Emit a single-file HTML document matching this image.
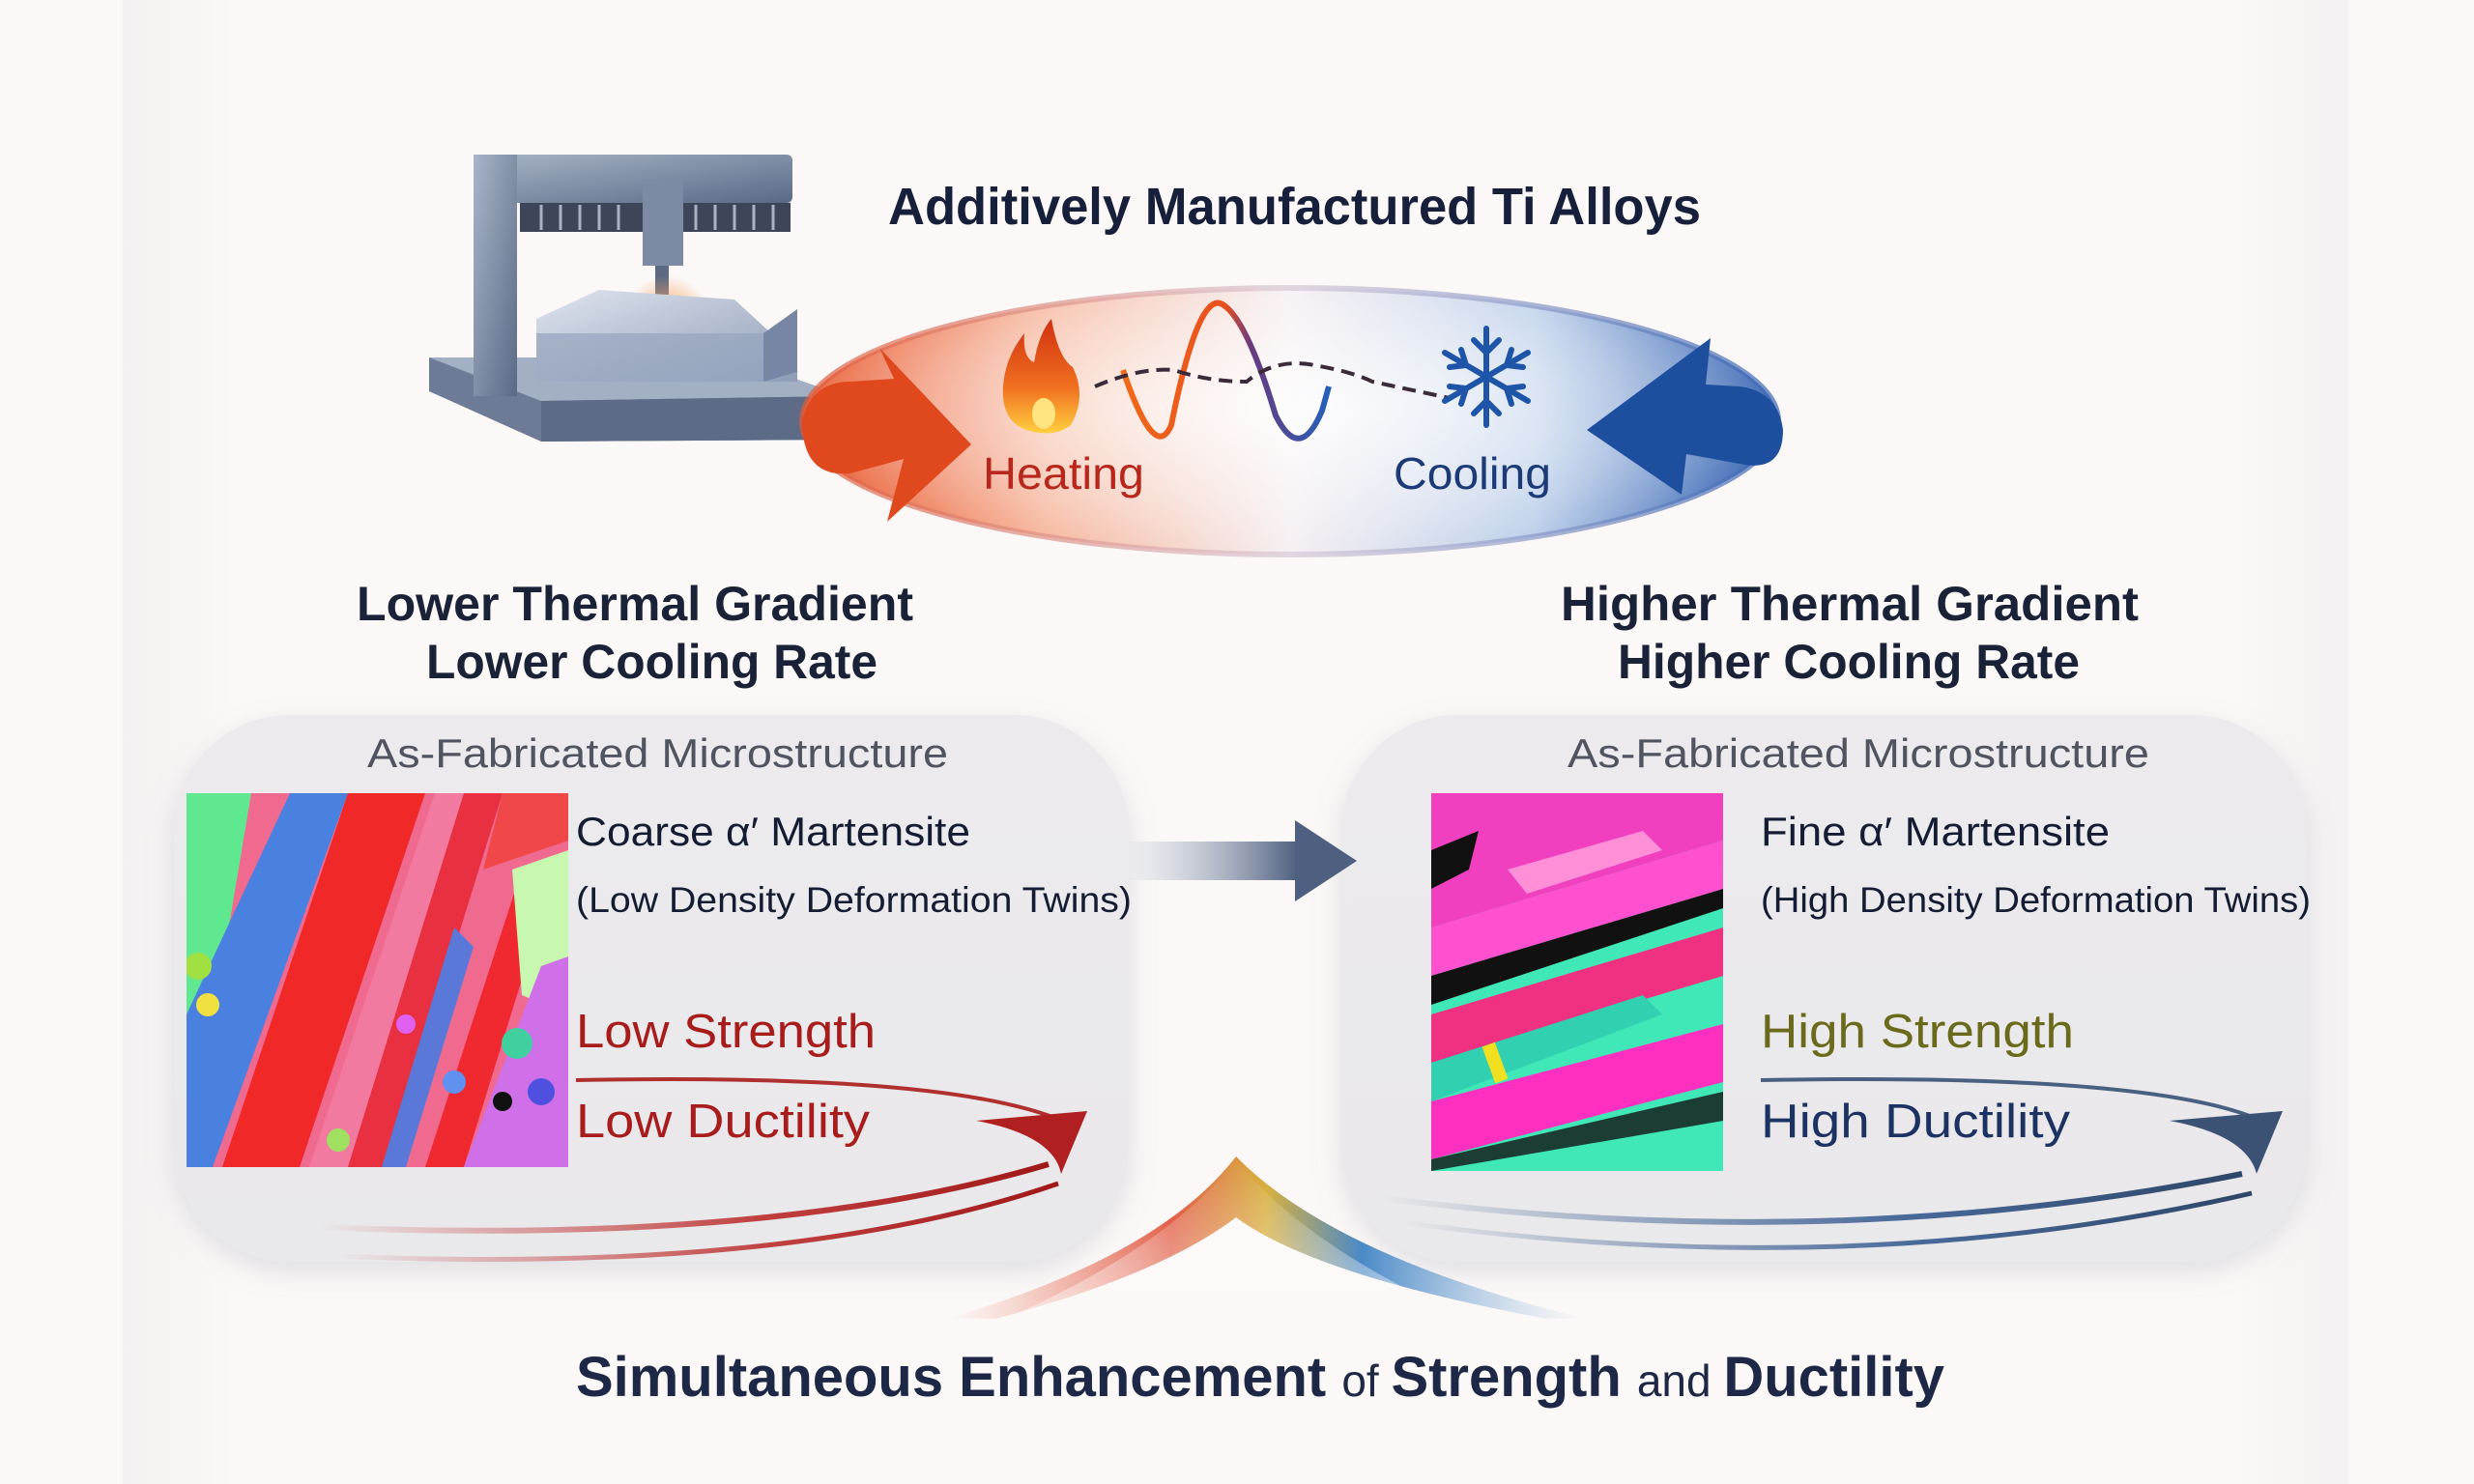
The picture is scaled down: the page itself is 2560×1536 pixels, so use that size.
<!DOCTYPE html>
<html><head><meta charset="utf-8"><style>
html,body{margin:0;padding:0;width:2560px;height:1536px;overflow:hidden;background:#fbf9f8}
svg{display:block}
text{font-family:"Liberation Sans",sans-serif}
</style></head><body>
<svg width="2560" height="1536" viewBox="0 0 2560 1536" xmlns="http://www.w3.org/2000/svg">
<defs>
<linearGradient id="bg" x1="0" x2="1"><stop offset="0" stop-color="#f3f1f1"/><stop offset="0.05" stop-color="#fbf8f7"/><stop offset="0.95" stop-color="#fbf8f7"/><stop offset="1" stop-color="#f3f1f1"/></linearGradient>
<linearGradient id="ell" x1="0" x2="1"><stop offset="0" stop-color="#e8562c"/><stop offset="0.25" stop-color="#f6b9a0"/><stop offset="0.5" stop-color="#f5eff2"/><stop offset="0.75" stop-color="#bccfea"/><stop offset="1" stop-color="#2c5cae"/></linearGradient>
<linearGradient id="rim" x1="0" x2="1"><stop offset="0" stop-color="#e05a3a"/><stop offset="0.5" stop-color="#d8c8d8"/><stop offset="1" stop-color="#3a66b4"/></linearGradient>
<radialGradient id="ellw" cx="0.5" cy="0.45" r="0.55"><stop offset="0" stop-color="#fff" stop-opacity="0.85"/><stop offset="0.7" stop-color="#fff" stop-opacity="0.3"/><stop offset="1" stop-color="#fff" stop-opacity="0"/></radialGradient>
<linearGradient id="wave" x1="0" x2="1"><stop offset="0" stop-color="#f06a1a"/><stop offset="0.5" stop-color="#e8501e"/><stop offset="0.62" stop-color="#6a3a80"/><stop offset="1" stop-color="#2560b8"/></linearGradient>
<linearGradient id="panel" x1="0" y1="0" x2="0" y2="1"><stop offset="0" stop-color="#eceaec"/><stop offset="1" stop-color="#e9e8ea"/></linearGradient>
<linearGradient id="marr" x1="0" x2="1"><stop offset="0" stop-color="#e4e7ee" stop-opacity="0.4"/><stop offset="1" stop-color="#4e5f80"/></linearGradient>
<linearGradient id="redsw" x1="0" x2="1"><stop offset="0" stop-color="#c85050" stop-opacity="0"/><stop offset="0.6" stop-color="#c04040"/><stop offset="1" stop-color="#a01818"/></linearGradient>
<linearGradient id="bluesw" x1="0" x2="1"><stop offset="0" stop-color="#4a6a9a" stop-opacity="0"/><stop offset="0.6" stop-color="#4a6a9a"/><stop offset="1" stop-color="#2e4668"/></linearGradient>
<linearGradient id="fl" x1="0" x2="1"><stop offset="0" stop-color="#f0a090" stop-opacity="0"/><stop offset="0.35" stop-color="#e2604a"/><stop offset="0.5" stop-color="#d8b040"/><stop offset="0.65" stop-color="#4a8ac8"/><stop offset="1" stop-color="#a0c0e0" stop-opacity="0"/></linearGradient>
<linearGradient id="flv" x1="0" y1="0" x2="0" y2="1"><stop offset="0" stop-color="#fff" stop-opacity="0"/><stop offset="1" stop-color="#fbf8f7" stop-opacity="0.9"/></linearGradient>
<linearGradient id="metal" x1="0" y1="0" x2="1" y2="1"><stop offset="0" stop-color="#a8b4c8"/><stop offset="1" stop-color="#5a6a86"/></linearGradient>
<linearGradient id="blk" x1="0" y1="0" x2="1" y2="1"><stop offset="0" stop-color="#dfe4ee"/><stop offset="1" stop-color="#8e9cb6"/></linearGradient>
<radialGradient id="glow"><stop offset="0" stop-color="#ffd070"/><stop offset="0.4" stop-color="#f7a060" stop-opacity="0.6"/><stop offset="1" stop-color="#f7a060" stop-opacity="0"/></radialGradient>
<linearGradient id="flame" x1="0" y1="1" x2="0" y2="0"><stop offset="0" stop-color="#ffd040"/><stop offset="0.4" stop-color="#f07020"/><stop offset="1" stop-color="#d03010"/></linearGradient>
<filter id="sh" x="-10%" y="-10%" width="120%" height="130%"><feDropShadow dx="0" dy="10" stdDeviation="14" flood-color="#8890a0" flood-opacity="0.25"/></filter>
<clipPath id="cl1"><rect x="193" y="821" width="395" height="387"/></clipPath>
<clipPath id="cl2"><rect x="1481" y="821" width="302" height="391"/></clipPath>
</defs>
<rect width="2560" height="1536" fill="#fbf9f8"/>
<rect x="127" y="0" width="2303" height="1536" fill="url(#bg)"/>

<!-- printer -->
<g>
<polygon points="444,370 760,370 874,410 874,455 560,457 444,405" fill="#6d7b96"/>
<polygon points="444,370 760,370 874,410 560,415" fill="#a3afc2"/>
<polygon points="560,415 874,410 874,455 560,457" fill="#5d6b86"/>
<rect x="490" y="160" width="330" height="50" fill="url(#metal)" rx="6"/>
<rect x="490" y="160" width="45" height="250" fill="url(#metal)"/>
<rect x="538" y="210" width="280" height="30" fill="#3c4658"/>
<g stroke="#aab4c4" stroke-width="3">
<line x1="560" y1="212" x2="560" y2="238"/><line x1="580" y1="212" x2="580" y2="238"/><line x1="600" y1="212" x2="600" y2="238"/><line x1="620" y1="212" x2="620" y2="238"/><line x1="640" y1="212" x2="640" y2="238"/><line x1="720" y1="212" x2="720" y2="238"/><line x1="740" y1="212" x2="740" y2="238"/><line x1="760" y1="212" x2="760" y2="238"/><line x1="780" y1="212" x2="780" y2="238"/><line x1="800" y1="212" x2="800" y2="238"/></g>
<rect x="665" y="185" width="42" height="90" fill="#7d8aa4"/>
<rect x="678" y="275" width="14" height="30" fill="#5c6a84"/>
<circle cx="690" cy="330" r="45" fill="url(#glow)"/>
<polygon points="555,330 620,300 760,310 825,370 825,395 555,395" fill="url(#blk)"/>
<polygon points="555,345 790,345 790,395 555,395" fill="#95a4be" opacity="0.7"/>
<polygon points="790,345 825,320 825,385 790,395" fill="#7686a4"/>
</g>

<!-- ellipse -->
<ellipse cx="1335" cy="436" rx="505" ry="138" fill="url(#ell)"/>
<ellipse cx="1335" cy="436" rx="505" ry="138" fill="url(#ellw)"/>
<ellipse cx="1335" cy="436" rx="505" ry="138" fill="none" stroke="url(#rim)" stroke-width="6" opacity="0.7"/>
<!-- left orange arrow -->
<path d="M830,435 Q840,395 880,395 L925,392 L910,360 L1005,460 L918,540 L935,475 L880,490 Q830,495 830,435 Z" fill="#e0481e"/>
<!-- right blue arrow -->
<path d="M1845,445 Q1840,405 1800,400 L1765,398 L1770,350 L1642,445 L1740,512 L1745,470 L1800,480 Q1845,490 1845,445 Z" fill="#1e4e9e"/>
<!-- flame -->
<path d="M1078,448 Q1035,445 1038,400 Q1040,370 1060,345 Q1058,370 1070,375 Q1075,345 1088,330 Q1095,370 1110,380 Q1125,410 1108,440 Q1095,450 1078,448 Z" fill="url(#flame)"/>
<ellipse cx="1080" cy="428" rx="12" ry="16" fill="#ffe480"/>
<!-- wave -->
<path d="M1162,383 Q1195,480 1212,440 Q1240,300 1265,315 Q1290,330 1320,430 Q1345,480 1368,425 L1375,400" fill="none" stroke="url(#wave)" stroke-width="6"/>
<path d="M1133,400 Q1180,380 1215,383 Q1250,395 1290,395 Q1320,370 1360,378 Q1400,385 1420,395 L1500,412" fill="none" stroke="#3a2a3a" stroke-width="4" stroke-dasharray="14,8"/>
<!-- snowflake -->
<g stroke="#1e55a8" stroke-width="6" stroke-linecap="round" fill="none">
<line x1="1538" y1="340" x2="1538" y2="440"/>
<line x1="1495" y1="365" x2="1581" y2="415"/>
<line x1="1495" y1="415" x2="1581" y2="365"/>
<path d="M1525,352 L1538,365 L1551,352 M1525,428 L1538,415 L1551,428 M1500,380 L1517,378 L1512,362 M1576,380 L1559,378 L1564,362 M1500,400 L1517,402 L1512,418 M1576,400 L1559,402 L1564,418"/>
</g>
<text x="1017" y="506" font-size="46" fill="#b8261c" textLength="167" lengthAdjust="spacingAndGlyphs">Heating</text>
<text x="1442" y="506" font-size="46" fill="#1c3a78" textLength="163" lengthAdjust="spacingAndGlyphs">Cooling</text>

<text x="919" y="232" font-size="54" font-weight="bold" fill="#17203a" textLength="841" lengthAdjust="spacingAndGlyphs">Additively Manufactured Ti Alloys</text>

<text x="369" y="642" font-size="50" font-weight="bold" fill="#1a2238" textLength="576" lengthAdjust="spacingAndGlyphs">Lower Thermal Gradient</text>
<text x="441" y="702" font-size="50" font-weight="bold" fill="#1a2238" textLength="467" lengthAdjust="spacingAndGlyphs">Lower Cooling Rate</text>
<text x="1615" y="642" font-size="50" font-weight="bold" fill="#1a2238" textLength="598" lengthAdjust="spacingAndGlyphs">Higher Thermal Gradient</text>
<text x="1674" y="702" font-size="50" font-weight="bold" fill="#1a2238" textLength="478" lengthAdjust="spacingAndGlyphs">Higher Cooling Rate</text>

<!-- panels -->
<rect x="180" y="740" width="988" height="566" rx="120" fill="url(#panel)" filter="url(#sh)"/>
<rect x="1388" y="740" width="999" height="566" rx="120" fill="url(#panel)" filter="url(#sh)"/>
<text x="380" y="794" font-size="42" fill="#505460" textLength="601" lengthAdjust="spacingAndGlyphs">As-Fabricated Microstructure</text>
<text x="1622" y="794" font-size="42" fill="#505460" textLength="602" lengthAdjust="spacingAndGlyphs">As-Fabricated Microstructure</text>

<!-- left EBSD -->
<g clip-path="url(#cl1)">
<rect x="193" y="821" width="395" height="387" fill="#f06a90"/>
<polygon points="193,821 260,821 230,1000 193,1050" fill="#60e890"/>
<polygon points="193,1050 300,821 360,821 220,1208 193,1208" fill="#4a80e0"/>
<polygon points="230,1208 360,821 440,821 310,1208" fill="#f02828"/>
<polygon points="320,1208 450,821 480,821 360,1208" fill="#f27aa0"/>
<polygon points="360,1208 480,821 520,821 400,1208" fill="#e83040"/>
<polygon points="395,1208 470,960 490,980 420,1208" fill="#5a78d8"/>
<polygon points="440,1208 540,900 575,900 480,1208" fill="#f02830"/>
<polygon points="530,900 588,880 588,1050 540,1030" fill="#c8f8b0"/>
<polygon points="520,821 588,821 588,870 500,900" fill="#f04848"/>
<polygon points="480,1208 560,1000 588,990 588,1208" fill="#d070e8"/>
<circle cx="535" cy="1080" r="16" fill="#40d0a0"/><circle cx="560" cy="1130" r="14" fill="#5050e0"/><circle cx="520" cy="1140" r="10" fill="#111"/>
<circle cx="205" cy="1000" r="14" fill="#a0e040"/><circle cx="215" cy="1040" r="12" fill="#f0e040"/><circle cx="350" cy="1180" r="12" fill="#a0e060"/>
<circle cx="470" cy="1120" r="12" fill="#6090f0"/><circle cx="420" cy="1060" r="10" fill="#e060f0"/>
</g>
<!-- right EBSD -->
<g clip-path="url(#cl2)">
<rect x="1481" y="821" width="302" height="391" fill="#40e8b8"/>
<polygon points="1481,821 1783,821 1783,870 1481,960" fill="#f040c0"/>
<polygon points="1481,960 1783,870 1783,920 1481,1010" fill="#ff50d0"/>
<polygon points="1481,1010 1783,920 1783,940 1481,1040" fill="#111"/>
<polygon points="1481,1050 1783,960 1783,1010 1481,1100" fill="#f03080"/>
<polygon points="1481,1100 1700,1030 1720,1050 1481,1140" fill="#30d0b0"/>
<polygon points="1481,1140 1783,1060 1783,1120 1481,1200" fill="#ff30c0"/>
<polygon points="1481,1200 1783,1130 1783,1160 1481,1212" fill="#111" opacity="0.8"/>
<polygon points="1560,900 1700,860 1720,880 1580,925" fill="#ff90d8"/>
<polygon points="1481,880 1530,860 1520,900 1481,920" fill="#111"/>
<rect x="1540" y="1080" width="14" height="40" fill="#f0e020" transform="rotate(-20 1547 1100)"/>
</g>

<text x="596" y="875" font-size="42" fill="#141c34" textLength="408" lengthAdjust="spacingAndGlyphs">Coarse α′ Martensite</text>
<text x="596" y="944" font-size="37" fill="#141c34" textLength="575" lengthAdjust="spacingAndGlyphs">(Low Density Deformation Twins)</text>
<text x="596" y="1084" font-size="49" fill="#a81c1c" textLength="310" lengthAdjust="spacingAndGlyphs">Low Strength</text>
<text x="596" y="1177" font-size="49" fill="#a81c1c" textLength="304" lengthAdjust="spacingAndGlyphs">Low Ductility</text>
<text x="1822" y="875" font-size="42" fill="#141c34" textLength="361" lengthAdjust="spacingAndGlyphs">Fine α′ Martensite</text>
<text x="1822" y="944" font-size="37" fill="#141c34" textLength="569" lengthAdjust="spacingAndGlyphs">(High Density Deformation Twins)</text>
<text x="1822" y="1084" font-size="49" fill="#6a6a1c" textLength="324" lengthAdjust="spacingAndGlyphs">High Strength</text>
<text x="1822" y="1177" font-size="49" fill="#1c3262" textLength="320" lengthAdjust="spacingAndGlyphs">High Ductility</text>

<!-- swooshes -->
<path d="M596,1118 Q1000,1110 1110,1165" fill="none" stroke="#b03030" stroke-width="4"/>
<path d="M1010,1160 L1125,1150 L1098,1215 Q1090,1175 1010,1160 Z" fill="#b02020"/>
<path d="M330,1270 Q800,1290 1085,1205" fill="none" stroke="url(#redsw)" stroke-width="6"/>
<path d="M350,1300 Q820,1320 1095,1225" fill="none" stroke="url(#redsw)" stroke-width="5"/>
<path d="M1822,1118 Q2250,1110 2350,1165" fill="none" stroke="#4a6080" stroke-width="4"/>
<path d="M2245,1160 L2362,1150 L2335,1215 Q2325,1175 2245,1160 Z" fill="#3c5274"/>
<path d="M1430,1240 Q1900,1300 2320,1215" fill="none" stroke="url(#bluesw)" stroke-width="6"/>
<path d="M1450,1265 Q1920,1330 2330,1235" fill="none" stroke="url(#bluesw)" stroke-width="5"/>

<!-- middle arrow -->
<rect x="1168" y="871" width="175" height="40" fill="url(#marr)"/>
<polygon points="1340,849 1404,891 1340,933" fill="#4e5f80"/>

<!-- fountain -->
<path d="M1279,1197 Q1200,1300 980,1365 L1030,1365 Q1200,1320 1279,1260 Q1360,1320 1600,1365 L1640,1365 Q1380,1300 1279,1197 Z" fill="url(#fl)"/>
<path d="M1279,1200 Q1210,1290 1040,1365 L1520,1365 Q1350,1290 1279,1200 Z" fill="url(#flv)" opacity="0.6"/>

<text x="596" y="1445" font-size="58" fill="#1c2845" textLength="1416" lengthAdjust="spacingAndGlyphs"><tspan font-weight="bold">Simultaneous Enhancement </tspan><tspan font-size="46">of </tspan><tspan font-weight="bold">Strength </tspan><tspan font-size="46">and </tspan><tspan font-weight="bold">Ductility</tspan></text>
</svg>
</body></html>
